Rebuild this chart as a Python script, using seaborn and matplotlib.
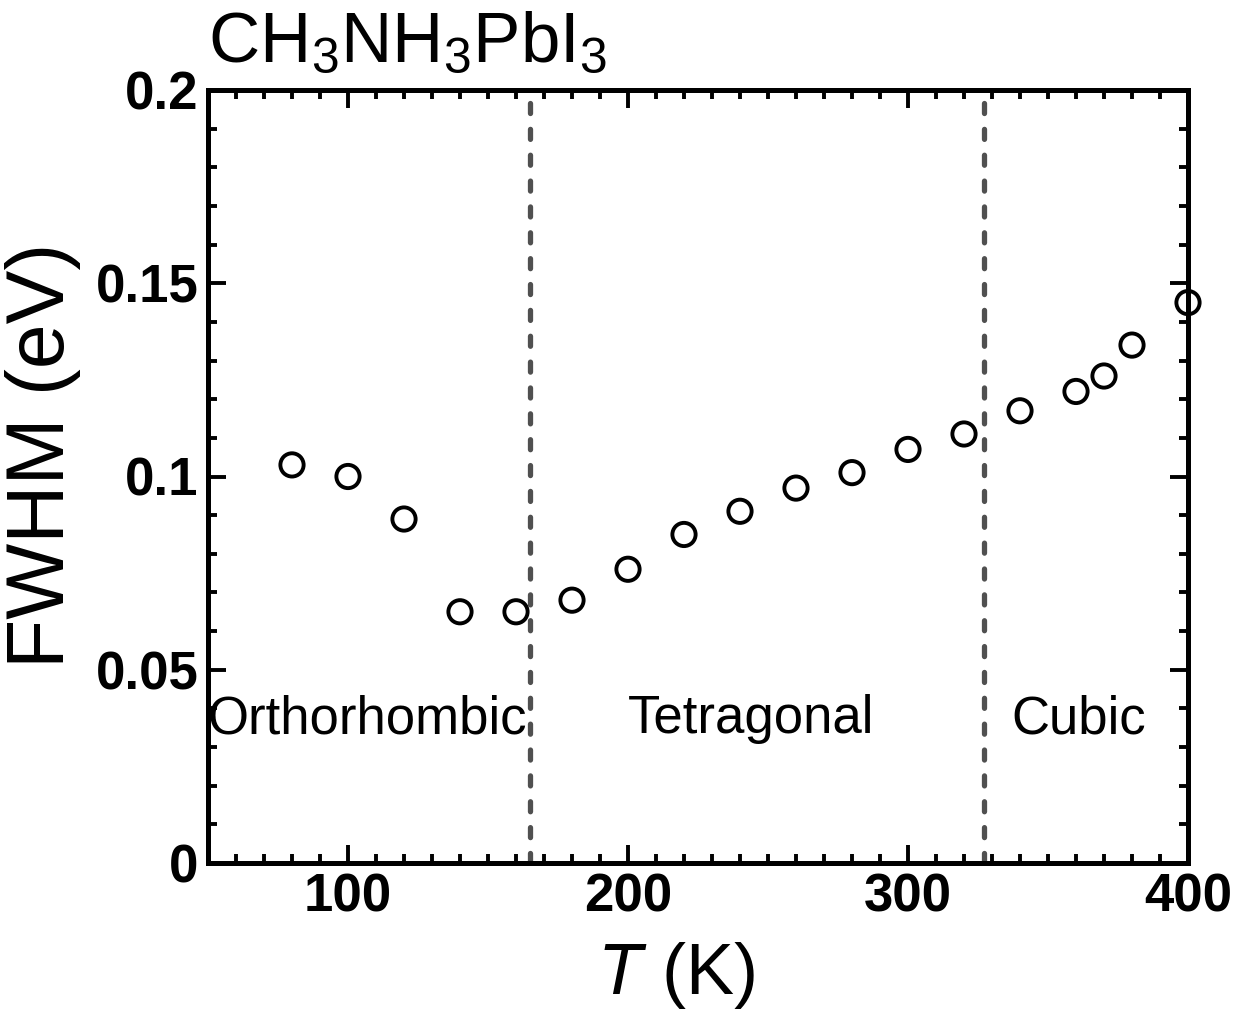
import matplotlib
matplotlib.use("Agg")
import matplotlib.pyplot as plt
import seaborn as sns
import pandas as pd
from matplotlib.ticker import MultipleLocator

temperature_K = [80, 100, 120, 140, 160, 180, 200, 220, 240, 260, 280, 300, 320, 340, 360, 370, 380, 400]
fwhm_eV = [0.103, 0.100, 0.089, 0.065, 0.065, 0.068, 0.076, 0.085, 0.091, 0.097, 0.101, 0.107, 0.111, 0.117, 0.122, 0.126, 0.134, 0.145]
phase_boundaries = [165, 327]
phase_names = ["Orthorhombic", "Tetragonal", "Cubic"]
phase_label_x = [107, 244, 361]
x_ticks = [100, 200, 300, 400]
y_ticks = [0, 0.05, 0.1, 0.15, 0.2]
y_tick_labels = ["0", "0.05", "0.1", "0.15", "0.2"]

sns.set_style("white")
plt.rcParams["font.family"] = ["Liberation Sans", "DejaVu Sans"]
plt.rcParams["mathtext.fontset"] = "custom"
plt.rcParams["mathtext.rm"] = "Liberation Sans"
plt.rcParams["mathtext.it"] = "Liberation Sans:italic"
plt.rcParams["mathtext.bf"] = "Liberation Sans:bold"
for key in ["text.color", "axes.labelcolor", "xtick.color", "ytick.color", "axes.edgecolor"]:
    plt.rcParams[key] = "black"

df = pd.DataFrame({"T": temperature_K, "FWHM": fwhm_eV})

fig = plt.figure(figsize=(12.44, 10.11), dpi=100)
ax = fig.add_axes([208 / 1244, 1 - 863 / 1011, (1188 - 208) / 1244, (863 - 90) / 1011])

for xb in phase_boundaries:
    ax.axvline(xb, color="#505050", lw=3.8, linestyle=(0, (1.9, 3.0)),
               dash_capstyle="round", zorder=1)

sns.scatterplot(data=df, x="T", y="FWHM", ax=ax, marker="o", s=280,
                facecolors="none", edgecolor="black", linewidth=2.8,
                zorder=3, clip_on=False, legend=False)

ax.set_xlim(50, 400)
ax.set_ylim(0, 0.2)
ax.set_xticks(x_ticks)
ax.set_yticks(y_ticks)
ax.set_yticklabels(y_tick_labels)
ax.xaxis.set_minor_locator(MultipleLocator(10))
ax.yaxis.set_minor_locator(MultipleLocator(0.01))
ax.tick_params(which="both", direction="in", top=True, right=True, bottom=True, left=True,
               width=2.8, color="black")
ax.tick_params(which="major", length=13, labelsize=38, pad=7)
ax.tick_params(which="minor", length=6.5)
for lab in ax.get_xticklabels() + ax.get_yticklabels():
    lab.set_fontweight("bold")
for sp in ax.spines.values():
    sp.set_linewidth(3.6)
    sp.set_color("black")

ax.set_xlabel(r"$T$ (K)", fontsize=52)
ax.xaxis.set_label_coords(0.478, -0.1)
ax.xaxis.label.set_va("top")
ax.set_ylabel("FWHM (eV)", fontsize=58)
ax.yaxis.set_label_coords(-0.13, 0.527)

for name, xp in zip(phase_names, phase_label_x):
    ax.text(xp, 0.0336, name, ha="center", va="baseline", fontsize=38)

ax.text(0.0, 1.036, r"CH$_3$NH$_3$PbI$_3$", transform=ax.transAxes,
        ha="left", va="baseline", fontsize=51)

fig.savefig("out.png", dpi=100)
